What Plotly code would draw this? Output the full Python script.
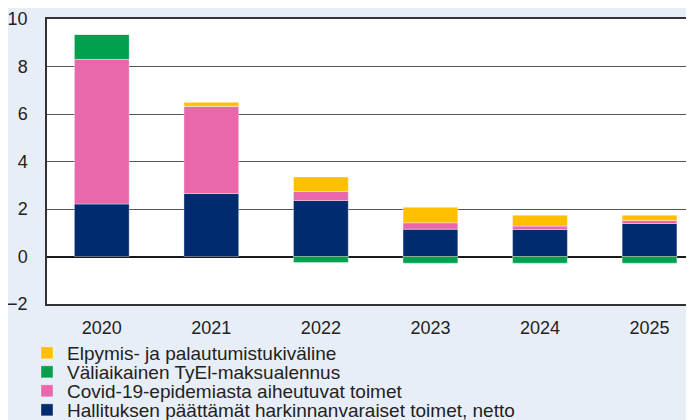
import plotly.graph_objects as go

years = ["2020", "2021", "2022", "2023", "2024", "2025"]
hallitus = [2.21, 2.65, 2.36, 1.15, 1.14, 1.39]
covid = [6.09, 3.68, 0.38, 0.27, 0.14, 0.13]
tyel = [1.05, 0.0, -0.25, -0.28, -0.28, -0.28]
elpymis = [0.0, 0.16, 0.61, 0.65, 0.46, 0.22]

names = [
    "Hallituksen päättämät harkinnanvaraiset toimet, netto",
    "Covid-19-epidemiasta aiheutuvat toimet",
    "Väliaikainen TyEl-maksualennus",
    "Elpymis- ja palautumistukiväline",
]
colors = ["#002b6e", "#e868ab", "#00a04f", "#ffc000"]
series = [hallitus, covid, tyel, elpymis]
legend_ids = ["legend4", "legend3", "legend2", "legend"]

fig = go.Figure()
for name, vals, col, lg in zip(names, series, colors, legend_ids):
    fig.add_trace(go.Bar(
        x=years, y=vals, name=name, width=0.5,
        marker=dict(color=col, line=dict(width=0.8, color="rgba(255,255,255,0.45)")),
        legend=lg, showlegend=True,
    ))

bg = "#e8eef8"
font = dict(family="Liberation Sans, Arial, sans-serif", size=18, color="#222")
leg_font = dict(family="Liberation Sans, Arial, sans-serif", size=19, color="#222")
# layout coords (page has 8px body offset): plot area y 11..296, x 39..
PLOT_W = 655
rows_px = [345, 364, 383, 402]
legend_layout = {}
for lg, py in zip(["legend", "legend2", "legend3", "legend4"], rows_px):
    legend_layout[lg] = dict(
        x=-20.0 / PLOT_W, xanchor="left", y=(296 - py) / 285.0, yanchor="middle",
        bgcolor="rgba(0,0,0,0)", font=leg_font, borderwidth=0,
        itemclick=False, visible=True,
    )

fig.update_layout(
    barmode="relative",
    width=694, height=420,
    margin=dict(l=39, r=0, t=11, b=124, autoexpand=False),
    paper_bgcolor=bg, plot_bgcolor="white",
    font=font,
    showlegend=True,
    **legend_layout,
)
fig.update_xaxes(
    range=[-0.5, -0.5 + PLOT_W / 109.55], showgrid=False,
    showline=True, mirror=True, linecolor="#333", linewidth=1.5,
    tickfont=font, ticklabelstandoff=7, fixedrange=True,
)
fig.update_yaxes(
    range=[-2, 10], dtick=2, tick0=0, showgrid=True, gridcolor="#555", gridwidth=1,
    zeroline=True, zerolinecolor="#1a1a1a", zerolinewidth=1.5,
    showline=True, linecolor="#333", linewidth=1.5,
    tickfont=font, ticklabelstandoff=14, fixedrange=True,
)

fig.write_html("out.html", post_script="document.body.style.overflow='hidden';")
